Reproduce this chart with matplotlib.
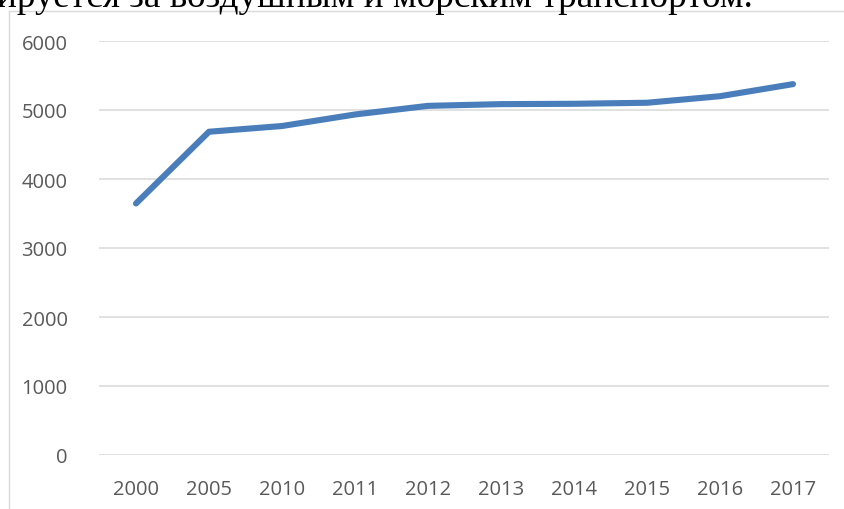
import matplotlib.pyplot as plt
from matplotlib.lines import Line2D

years = ["2000", "2005", "2010", "2011", "2012", "2013", "2014", "2015", "2016", "2017"]
values = [3645, 4685, 4768, 4935, 5060, 5085, 5090, 5105, 5200, 5375]
y_ticks = [0, 1000, 2000, 3000, 4000, 5000, 6000]
caption = "ируется за воздушным и морским транспортом."

W, H = 845, 510
fig = plt.figure(figsize=(W / 100, H / 100), dpi=100)

# chart area border (light gray frame, cut by the image edges)
fig.add_artist(Line2D([9.5 / W, 9.5 / W], [0, 1 - 12 / H], color="#d9d9d9", lw=1.0))
fig.add_artist(Line2D([9.5 / W, 1], [1 - 12 / H, 1 - 12 / H], color="#d9d9d9", lw=1.0))

# clipped document text above the chart
fig.text(753 / W, 1 - 7 / H, caption, ha="right", va="baseline",
         fontsize=26.8, family="Liberation Serif", color="black")

ax = fig.add_axes([99.5 / W, 54 / H, 730 / W, 414 / H])
x = list(range(len(years)))
ax.plot(x, values, color="#4a7ebb", lw=4.4, solid_capstyle="round", solid_joinstyle="round", zorder=3)

ax.set_xlim(-0.5, len(years) - 0.5)
ax.set_ylim(0, 6000)
ax.set_xticks(x)
ax.set_xticklabels(years)
ax.set_yticks(y_ticks)
ax.set_yticklabels([str(v) for v in y_ticks])
ax.grid(axis="y", color="#d9d9d9", lw=1.1, zorder=0)
ax.tick_params(length=0, labelsize=14.5, labelcolor="#595959")
ax.tick_params(axis="y", pad=23)
ax.tick_params(axis="x", pad=17)
for lbl in ax.get_xticklabels() + ax.get_yticklabels():
    lbl.set_family("Open Sans")
for s in ax.spines.values():
    s.set_visible(False)

fig.savefig("out.png", dpi=100)
